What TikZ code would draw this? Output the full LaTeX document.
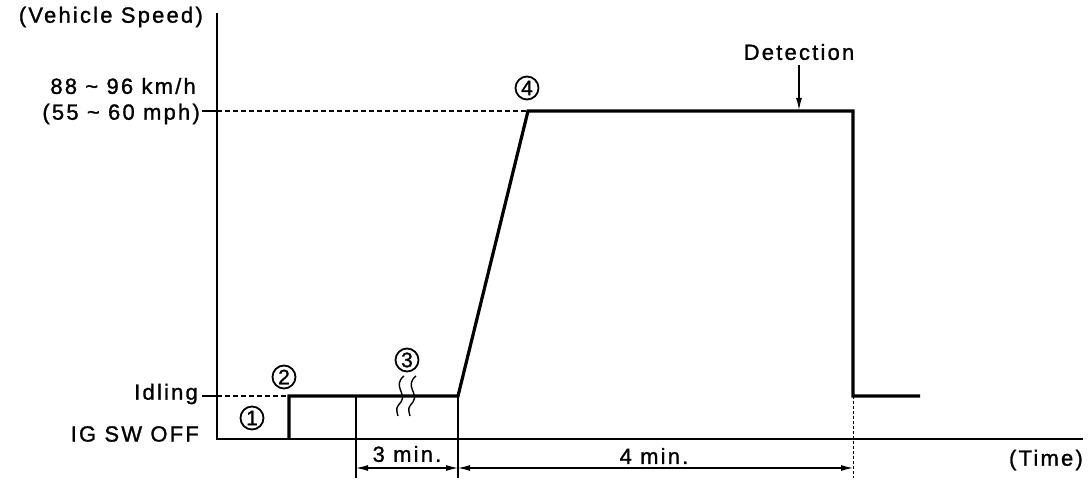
\documentclass[tikz,border=0pt]{standalone}
\usepackage{fontspec}
\setmainfont{Liberation Sans}[LetterSpace=10,FakeBold=1.2]
\usetikzlibrary{arrows.meta}
\begin{document}
\begin{tikzpicture}[x=1pt,y=-1pt,
  font=\fontsize{22}{24}\selectfont,
  wave/.style={line width=3.2pt, line join=miter},
  axisline/.style={line width=2pt},
  extline/.style={line width=1.1pt},
  guide/.style={line width=1.4pt, dash pattern=on 5pt off 3pt},
  dotguide/.style={line width=1pt, dash pattern=on 3pt off 2pt},
  dimarrow/.style={line width=1.1pt, {Latex[length=12pt,width=6pt]}-{Latex[length=12pt,width=6pt]}},
  pointer/.style={line width=1.1pt, -{Latex[length=12pt,width=6pt]}},
  circnum/.style={circle, draw, line width=1.8pt, minimum size=23pt, inner sep=0pt, font=\fontsize{21}{21}\selectfont},
  lbl/.style={inner sep=0pt},
  squig/.style={line width=1.4pt}
]
\useasboundingbox (0,0) rectangle (1088,486);

% axes
\coordinate (O) at (217,439);
\coordinate (Ytop) at (217,13);
\coordinate (Xend) at (1083,439);
\draw[axisline] (Ytop) -- (O) -- (Xend);

% level ticks and guides
\coordinate (Hi) at (217,111);
\coordinate (Id) at (217,396);
\coordinate (HiTick) at (202,111);
\coordinate (IdTick) at (202,396);
\draw[axisline] (HiTick) -- (Hi);
\draw[axisline] (IdTick) -- (Id);

% waveform points
\coordinate (s0) at (289,439);
\coordinate (s1) at (289,396);
\coordinate (s2) at (458,396);
\coordinate (s3) at (528,111);
\coordinate (s4) at (853,111);
\coordinate (s5) at (853,396);
\coordinate (s6) at (920,396);
\draw[guide] (Hi) -- (s3);
\draw[guide] (Id) -- (s1);
\draw[wave] (s0) -- (s1) -- (s2) -- (s3) -- (s4) -- (s5) -- (s6);

% extension lines
\coordinate (e1top) at (356,396);
\coordinate (e1bot) at (356,478);
\coordinate (e2bot) at (458,478);
\coordinate (e3bot) at (853,478);
\draw[extline] (e1top) -- (e1bot);
\draw[extline] (s2) -- (e2bot);
\draw[dotguide] (s5) -- (e3bot);

% dimension arrows
\coordinate (d1) at (356,468);
\coordinate (d2) at (458,468);
\coordinate (d3) at (853,468);
\draw[dimarrow] (d1) -- (d2);
\draw[dimarrow] (d2) -- (d3);
\node[lbl] (t3) at (407,454) {3 min.};
\node[lbl] (t4) at (654,456) {4 min.};

% labels
\node[lbl, anchor=east] (vs) at (203,17) {(Vehicle Speed)};
\node[lbl, anchor=east] (kmh) at (196,86) {88 \textasciitilde{} 96 km/h};
\node[lbl, anchor=east] (mph) at (200,114) {(55 \textasciitilde{} 60 mph)};
\node[lbl, anchor=east] (idl) at (198,394) {Idling};
\node[lbl, anchor=east] (igoff) at (199,434) {IG SW OFF};
\node[lbl, anchor=east] (time) at (1083,460) {(Time)};

% detection
\node[lbl] (det) at (799,52) {Detection};
\coordinate (detpt) at (799,110);
\draw[pointer] (det.south -| detpt) ++(0,5) -- (detpt);

% circled numbers
\node[circnum] (c1) at (252,418) {1};
\node[circnum] (c2) at (284,377) {2};
\node[circnum] (c3) at (407,360) {3};
\node[circnum] (c4) at (527,88) {4};

% break mark under 3
\coordinate (q1a) at (404,376);
\coordinate (q1b) at (398,416);
\coordinate (q2a) at (416,376);
\coordinate (q2b) at (410,416);
\draw[squig] (q1a) .. controls (392,386) and (407,393) .. (401,402) .. controls (396,408) .. (q1b);
\draw[squig] (q2a) .. controls (404,386) and (419,393) .. (413,402) .. controls (408,408) .. (q2b);
\end{tikzpicture}
\end{document}
